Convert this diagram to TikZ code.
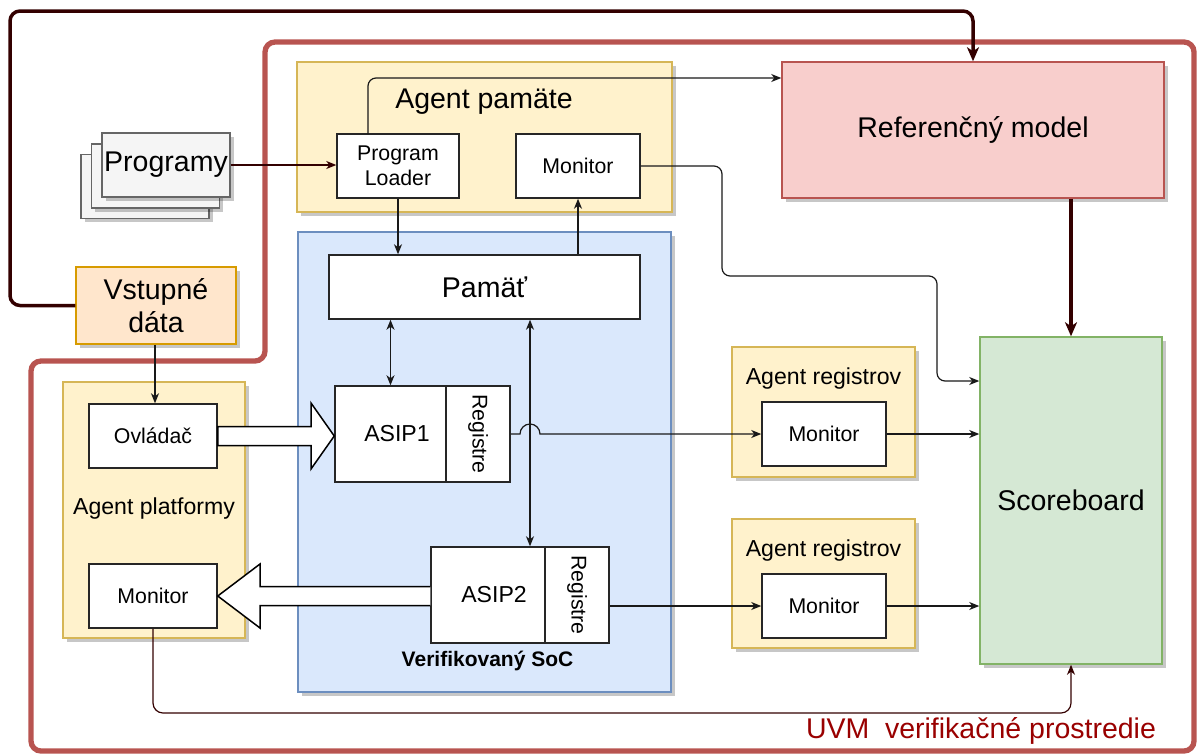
\documentclass[tikz,border=0pt]{standalone}
\usepackage{fontspec}
\setmainfont{Liberation Sans}
\usetikzlibrary{arrows.meta,shadows,calc}

\definecolor{agentfill}{HTML}{FFF2CC}
\definecolor{agentline}{HTML}{D6B656}
\definecolor{socfill}{HTML}{DAE8FC}
\definecolor{socline}{HTML}{6C8EBF}
\definecolor{reffill}{HTML}{F8CECC}
\definecolor{refline}{HTML}{B85450}
\definecolor{scorefill}{HTML}{D5E8D4}
\definecolor{scoreline}{HTML}{82B366}
\definecolor{inputfill}{HTML}{FFE6CC}
\definecolor{inputline}{HTML}{D79B00}
\definecolor{progfill}{HTML}{F5F5F5}
\definecolor{progline}{HTML}{666666}
\definecolor{envline}{HTML}{B85450}
\definecolor{envtext}{HTML}{990000}
\definecolor{darkred}{HTML}{330000}

\tikzset{
  base/.style={draw, line width=1.5pt, inner sep=0pt, align=center},
  shade/.style={drop shadow={shadow xshift=3.5pt, shadow yshift=-3.5pt, fill=black, opacity=0.22}},
  fsmall/.style={font=\fontsize{21.3}{25}\selectfont},
  fmid/.style={font=\fontsize{23.1}{27}\selectfont},
  fbig/.style={font=\fontsize{28.5}{33}\selectfont},
  whitebox/.style={base, fill=white, draw=black!85},
  agentbox/.style={base, fill=agentfill, draw=agentline, shade},
  socbox/.style={base, fill=socfill, draw=socline, shade},
  refbox/.style={base, fill=reffill, draw=refline, shade},
  scorebox/.style={base, fill=scorefill, draw=scoreline, shade},
  inputbox/.style={base, fill=inputfill, draw=inputline, shade},
  progbox/.style={base, fill=progfill, draw=progline, shade},
  wire/.style={line width=1.2pt, draw=black!90, -{Stealth[length=10pt,width=8pt,inset=3pt]}},
  biwire/.style={line width=1.2pt, draw=black!90, {Stealth[length=10pt,width=8pt,inset=3pt]}-{Stealth[length=10pt,width=8pt,inset=3pt]}},
  darkwire/.style={line width=1.2pt, draw=darkred, -{Stealth[length=10pt,width=8pt,inset=3pt]}},
  heavywire/.style={line width=3.5pt, draw=darkred, -{Stealth[length=14pt,width=12pt,inset=4pt]}},
  blockarrow/.style={fill=white, draw=black, line width=1.5pt, line join=miter},
}

\begin{document}
\begin{tikzpicture}[x=1pt, y=-1pt]
\useasboundingbox (0,0) rectangle (1198,753);

% verification environment frame
\draw[envline, line width=5.3pt, rounded corners=10pt]
  (31,751) -- (31,361) -- (265,361) -- (265,42) -- (1194,42) -- (1194,751) -- cycle;
\node[fbig, text=envtext] (envlabel) at (981,731) {UVM\hspace{0.55em}verifikačné prostredie};

% program stack
\node[progbox, minimum width=128pt, minimum height=64pt] (progC) at (145,186.5) {};
\node[progbox, minimum width=128pt, minimum height=64pt] (progB) at (155.5,176) {};
\node[progbox, fbig, minimum width=128pt, minimum height=64pt] (progA) at (166,165) {Programy};

% input data
\node[inputbox, fbig, minimum width=160pt, minimum height=77pt] (input) at (156,305.5) {Vstupné\\dáta};

% memory agent
\node[agentbox, minimum width=375pt, minimum height=150pt] (memagent) at (484.5,137) {};
\node[fbig] (memtitle) at (484,102) {Agent pamäte};
\node[whitebox, fsmall, minimum width=122pt, minimum height=64pt] (loader) at (398,166) {Program\\Loader};
\node[whitebox, fsmall, minimum width=124pt, minimum height=64pt] (memmon) at (578,166) {Monitor};

% reference model
\node[refbox, fbig, minimum width=382pt, minimum height=136pt] (ref) at (973,130) {Referenčný model};

% verified SoC
\node[socbox, minimum width=373pt, minimum height=460pt] (soc) at (484.5,462) {};
\node[font=\fontsize{21}{25}\selectfont\bfseries] (soctitle) at (487.5,661) {Verifikovaný SoC};
\node[whitebox, fbig, minimum width=311pt, minimum height=64pt] (pamat) at (484.5,287) {Pamäť};
\node[whitebox, minimum width=111pt, minimum height=96pt] (asip1) at (390.5,434) {};
\node[fmid] (asip1t) at (397,434) {ASIP1};
\node[whitebox, minimum width=64pt, minimum height=96pt] (reg1) at (478,434) {};
\node[fsmall, rotate=-90] (reg1t) at (reg1) {Registre};
\node[whitebox, minimum width=114pt, minimum height=96pt] (asip2) at (488,595) {};
\node[fmid] (asip2t) at (494,595) {ASIP2};
\node[whitebox, minimum width=64pt, minimum height=96pt] (reg2) at (577,595) {};
\node[fsmall, rotate=-90] (reg2t) at (reg2) {Registre};

% platform agent
\node[agentbox, minimum width=182pt, minimum height=256pt] (plat) at (154,510) {};
\node[fmid] (plattitle) at (154,509) {Agent platformy};
\node[whitebox, fsmall, minimum width=128pt, minimum height=64pt] (ovl) at (153,436) {Ovládač};
\node[whitebox, fsmall, minimum width=128pt, minimum height=64pt] (platmon) at (153,596) {Monitor};

% register agents
\node[agentbox, minimum width=183pt, minimum height=130pt] (regagentA) at (823.5,412) {};
\node[fmid] (regtitleA) at (823.5,379) {Agent registrov};
\node[whitebox, fsmall, minimum width=124pt, minimum height=64pt] (regmonA) at (824,434) {Monitor};
\node[agentbox, minimum width=183pt, minimum height=129pt] (regagentB) at (823.5,583.5) {};
\node[fmid] (regtitleB) at (823.5,551) {Agent registrov};
\node[whitebox, fsmall, minimum width=124pt, minimum height=64pt] (regmonB) at (824,606) {Monitor};

% scoreboard
\node[scorebox, fbig, minimum width=182pt, minimum height=327pt] (score) at (1071,500.5) {Scoreboard};

% input data feeds the reference model
\draw[heavywire, rounded corners=10pt]
  (input.west) -- (10,305.5) -- (10,11) -- (ref.north |- 0,11) -- (ref.north);

% connectors
\draw[darkwire] (progA.east) -- (loader.west |- progA.east);
\draw[wire, rounded corners=8pt] (368,134) -- (368,78) -- (ref.west |- 0,78);
\draw[wire] (loader.south) -- (loader.south |- pamat.north);
\draw[wire] (memmon.south |- pamat.north) -- (memmon.south);
\draw[wire, rounded corners=8pt]
  (memmon.east) -- (722,166) -- (722,276) -- (937,276) -- (937,381) -- (score.west |- 0,381);
\draw[biwire] (pamat.south -| asip1.north) -- (asip1.north);
\draw[biwire] (pamat.south -| 530,0) -- (asip2.north -| 530,0);
\draw[wire] (reg1.east) -- (520,434) arc[start angle=180, end angle=0, radius=10pt] -- (regmonA.west);
\draw[wire] (regmonA.east) -- (score.west |- regmonA.east);
\draw[wire] (reg2.east |- regmonB.west) -- (regmonB.west);
\draw[wire] (regmonB.east) -- (score.west |- regmonB.east);
\draw[wire] (input.south -| 155,0) -- (ovl.north -| 155,0);
\draw[darkwire, rounded corners=10pt]
  (platmon.south) -- (platmon.south |- 0,713) -- (score.south |- 0,713) -- (score.south);
\draw[heavywire] (ref.south -| score.north) -- (score.north);

% wide data-flow arrows
\draw[blockarrow]
  ($(ovl.east)+(0,-9.5)$) -- (311,426.5) -- (311,403) -- (asip1.west |- ovl.east)
  -- (311,469) -- (311,445.5) -- ($(ovl.east)+(0,9.5)$) -- cycle;
\draw[blockarrow]
  (asip2.west |- 0,586.5) -- (260,586.5) -- (260,564) -- (platmon.east)
  -- (260,628) -- (260,605.5) -- (asip2.west |- 0,605.5);
\end{tikzpicture}
\end{document}
